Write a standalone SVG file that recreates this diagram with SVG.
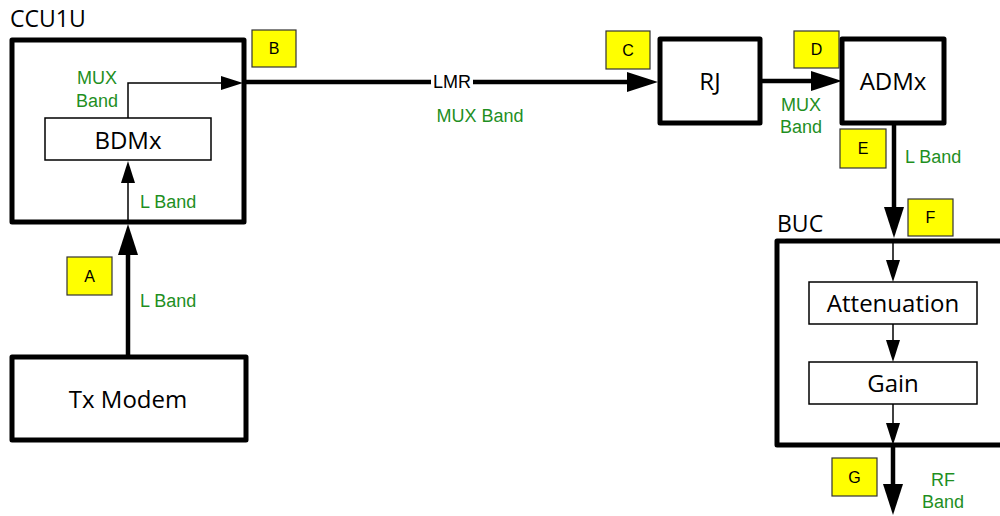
<svg xmlns="http://www.w3.org/2000/svg" width="1000" height="516" viewBox="0 0 1000 516">
<style>
.thick{fill:#fff;stroke:#000;stroke-width:5;stroke-linejoin:round}
.thin{fill:#fff;stroke:#000;stroke-width:1.5}
.tag{fill:#ffff00;stroke:#333;stroke-width:1.2}
.lbl{font-family:"Open Sans","Noto Sans",sans-serif;font-size:24px;fill:#000;text-anchor:middle}
.title{font-family:"Open Sans","Noto Sans",sans-serif;font-size:23px;fill:#000}
.tagt{font-family:"Liberation Sans",Arial,sans-serif;font-size:16px;fill:#000;text-anchor:middle}
.grn{font-family:"Liberation Sans",Arial,sans-serif;font-size:18px;fill:#1f8f1f}
.mid{text-anchor:middle}
.cl{fill:none;stroke:#000;stroke-width:4.5}
.cs{fill:none;stroke:#000;stroke-width:1.5}
</style>
<defs>
<marker id="big" markerUnits="userSpaceOnUse" markerWidth="31" markerHeight="20" viewBox="0 0 31 20" refX="21" refY="10" orient="auto"><path d="M0,0 L31,10 L0,20 z" fill="#000"/></marker>
<marker id="small" markerUnits="userSpaceOnUse" markerWidth="22" markerHeight="14" viewBox="0 0 22 14" refX="17" refY="7" orient="auto"><path d="M0,0 L22,7 L0,14 z" fill="#000"/></marker>
</defs>
<rect width="1000" height="516" fill="#fff"/>

<g id="ccu1u">
<rect class="thick" x="12" y="40" width="232" height="182"/>
<text class="title" x="10" y="27">CCU1U</text>
</g>
<g id="bdmx">
<rect class="thin" x="45" y="118" width="166" height="42"/>
<text class="lbl" x="128" y="149">BDMx</text>
</g>
<g id="txmodem">
<rect class="thick" x="12" y="357" width="234" height="83"/>
<text class="lbl" x="128" y="408">Tx Modem</text>
</g>
<g id="rj">
<rect class="thick" x="660" y="39" width="100" height="84"/>
<text class="lbl" x="710" y="90">RJ</text>
</g>
<g id="admx">
<rect class="thick" x="842" y="39" width="102" height="84"/>
<text class="lbl" x="893" y="90">ADMx</text>
</g>
<g id="buc">
<rect class="thick" x="777" y="241" width="300" height="204"/>
<text class="title" x="777" y="232">BUC</text>
</g>
<g id="attenuation">
<rect class="thin" x="809" y="282" width="168" height="42"/>
<text class="lbl" x="893" y="312">Attenuation</text>
</g>
<g id="gain">
<rect class="thin" x="809" y="362" width="168" height="42"/>
<text class="lbl" x="893" y="392">Gain</text>
</g>

<g id="tags">
<rect class="tag" x="67" y="257" width="45" height="38"/><text class="tagt" x="89.5" y="282">A</text>
<rect class="tag" x="252" y="30" width="44" height="37"/><text class="tagt" x="274" y="54">B</text>
<rect class="tag" x="606" y="31" width="44" height="38"/><text class="tagt" x="628" y="56">C</text>
<rect class="tag" x="794" y="31" width="45" height="37"/><text class="tagt" x="816.5" y="55">D</text>
<rect class="tag" x="840" y="129" width="46" height="39"/><text class="tagt" x="863" y="154">E</text>
<rect class="tag" x="908" y="199" width="45" height="37"/><text class="tagt" x="930.5" y="223">F</text>
<rect class="tag" x="832" y="458" width="45" height="38"/><text class="tagt" x="854.5" y="483">G</text>
</g>

<g id="connectors">
<line class="cl" x1="128" y1="357" x2="128" y2="234" marker-end="url(#big)"/>
<line class="cs" x1="128" y1="222" x2="128" y2="166" marker-end="url(#small)"/>
<polyline class="cs" points="128,118 128,83 238,83" marker-end="url(#small)"/>
<line class="cl" x1="246" y1="82" x2="648" y2="82" marker-end="url(#big)"/>
<rect x="431" y="72" width="42" height="20" fill="#fff"/>
<text class="tagt" x="452" y="88" style="font-size:18px">LMR</text>
<line class="cl" x1="760" y1="81" x2="832" y2="81" marker-end="url(#big)"/>
<line class="cl" x1="894" y1="123" x2="894" y2="228" marker-end="url(#big)"/>
<line class="cs" x1="893" y1="241" x2="893" y2="277" marker-end="url(#small)"/>
<line class="cs" x1="893" y1="324" x2="893" y2="357" marker-end="url(#small)"/>
<line class="cs" x1="893" y1="404" x2="893" y2="440" marker-end="url(#small)"/>
<line class="cl" x1="893" y1="445" x2="893" y2="505" marker-end="url(#big)"/>

<text class="grn mid" x="97" y="84">MUX</text>
<text class="grn mid" x="97" y="107">Band</text>
<text class="grn" x="140" y="208">L Band</text>
<text class="grn" x="140" y="307">L Band</text>
<text class="grn mid" x="480" y="122">MUX Band</text>
<text class="grn mid" x="801" y="111">MUX</text>
<text class="grn mid" x="801" y="133">Band</text>
<text class="grn" x="905" y="163">L Band</text>
<text class="grn mid" x="943" y="486">RF</text>
<text class="grn mid" x="943" y="508">Band</text>
</g>
</svg>
